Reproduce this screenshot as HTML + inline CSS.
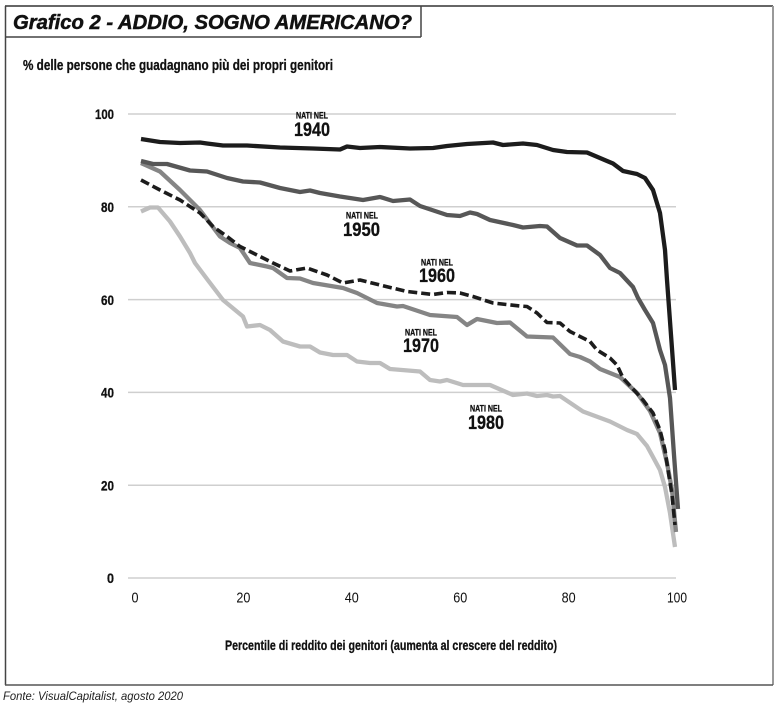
<!DOCTYPE html>
<html>
<head>
<meta charset="utf-8">
<style>
  html,body{margin:0;padding:0;background:#fff;}
  svg{display:block;}
  .nar{font-family:"Liberation Sans Narrow","Liberation Sans",sans-serif;}
</style>
</head>
<body>
<svg width="779" height="712" viewBox="0 0 779 712" xmlns="http://www.w3.org/2000/svg">
  <rect x="0" y="0" width="779" height="712" fill="#fff"/>
  <!-- outer frame -->
  <line x1="5" y1="6" x2="773" y2="6" stroke="#333" stroke-width="1.5"/>
  <line x1="5.5" y1="6" x2="5.5" y2="685" stroke="#444" stroke-width="1.5"/>
  <line x1="773" y1="6" x2="773" y2="685" stroke="#999" stroke-width="2"/>
  <line x1="5" y1="685" x2="773" y2="685" stroke="#555" stroke-width="1.5"/>
  <!-- title box -->
  <line x1="421" y1="6" x2="421" y2="37" stroke="#444" stroke-width="1.5"/>
  <line x1="5" y1="37" x2="421" y2="37" stroke="#444" stroke-width="1.5"/>
  <text x="13" y="29" font-family="Liberation Sans, sans-serif" font-weight="bold" font-style="italic" font-size="20" fill="#111" stroke="#111" stroke-width="0.5" textLength="399" lengthAdjust="spacingAndGlyphs">Grafico 2 - ADDIO, SOGNO AMERICANO?</text>

  <text class="nar" x="23" y="70" font-weight="bold" font-size="14.5" fill="#111" stroke="#111" stroke-width="0.3" textLength="310" lengthAdjust="spacingAndGlyphs">% delle persone che guadagnano più dei propri genitori</text>

  <!-- gridlines -->
  <g stroke="#cfcfcf" stroke-width="1.5">
    <line x1="128" y1="114" x2="676" y2="114"/>
    <line x1="128" y1="206.8" x2="676" y2="206.8"/>
    <line x1="128" y1="299.6" x2="676" y2="299.6"/>
    <line x1="128" y1="392.4" x2="676" y2="392.4"/>
    <line x1="128" y1="485.2" x2="676" y2="485.2"/>
    <line x1="128" y1="578" x2="676" y2="578"/>
  </g>

  <!-- y labels -->
  <g class="nar" font-weight="bold" font-size="14" fill="#111" stroke="#111" stroke-width="0.3" text-anchor="end">
    <text x="114" y="119" textLength="19" lengthAdjust="spacingAndGlyphs">100</text>
    <text x="114" y="212" textLength="13" lengthAdjust="spacingAndGlyphs">80</text>
    <text x="114" y="305" textLength="13" lengthAdjust="spacingAndGlyphs">60</text>
    <text x="114" y="397.5" textLength="13" lengthAdjust="spacingAndGlyphs">40</text>
    <text x="114" y="490.5" textLength="13" lengthAdjust="spacingAndGlyphs">20</text>
    <text x="114" y="583" textLength="7" lengthAdjust="spacingAndGlyphs">0</text>
  </g>
  <!-- x labels -->
  <g class="nar" font-size="15" fill="#111" text-anchor="middle">
    <text x="135" y="602.5" textLength="7" lengthAdjust="spacingAndGlyphs">0</text>
    <text x="243.4" y="602.5" textLength="14" lengthAdjust="spacingAndGlyphs">20</text>
    <text x="351.8" y="602.5" textLength="14" lengthAdjust="spacingAndGlyphs">40</text>
    <text x="460.2" y="602.5" textLength="14" lengthAdjust="spacingAndGlyphs">60</text>
    <text x="568.6" y="602.5" textLength="14" lengthAdjust="spacingAndGlyphs">80</text>
    <text x="677" y="602.5" textLength="20" lengthAdjust="spacingAndGlyphs">100</text>
  </g>
  <text class="nar" x="225" y="650" font-weight="bold" font-size="14" fill="#111" stroke="#111" stroke-width="0.3" textLength="332" lengthAdjust="spacingAndGlyphs">Percentile di reddito dei genitori (aumenta al crescere del reddito)</text>

  <!-- series -->
  <g fill="none" stroke-linejoin="round" stroke-linecap="butt">
    <polyline stroke="#bdbdbd" stroke-width="4.3" points="141,211.5 150,207.5 158,207.5 170,221.5 180,236.5 190,253 195,263 207,279 223,300 243,316.5 247,326.5 260,325 270,330 283,341.5 300,346.5 310,346.5 320,352.5 333,355 347,355 357,361.5 370,363 380,363 390,369 420,371.5 430,380 440,381.5 447,380 463,385 490,385 513,395 527,393.5 537,396 547,395 553,396.5 560,396 583,411.5 610,421.5 627,430 637,434 647,446 653,457 660,470 665,487 670,513 675,547"/>
    <polyline stroke="#858585" stroke-width="4.3" points="141,163 160,171.5 180,190 200,210 220,236.5 230,243 240,248 250,263 267,266.5 273,268 287,278 300,278.5 313,283 343,288 357,293 377,303 397,306.5 403,306 430,315 457,317 467,325 477,319 497,323 510,322.5 527,336.5 553,337.5 570,354 580,357 590,361.5 600,369 620,377 637,393 650,411 660,433 667,463 672,490 676,532"/>
    <polyline stroke="#575757" stroke-width="4.3" points="141,161 153,164 167,164 190,170.5 207,171.5 227,178 243,181.5 260,182.5 280,188 300,192 310,190.5 320,193 340,196.5 363,200 380,197 393,201 410,199.5 420,206 447,215 460,216 470,212.5 477,214 490,220 513,225 523,227.5 540,226 547,226.5 560,238 577,245.5 587,245.5 600,255 610,268 620,273 633,287 638,298 645,310 653,323 660,350 665,365 670,398 674,455 678,509"/>
    <polyline stroke="#1c1c1c" stroke-width="3.6" stroke-dasharray="9 4" points="141,180 160,190 180,200 200,213 213,226.5 227,236.5 240,246.5 250,251.5 260,256.5 273,263 290,271 307,268 327,275 343,283 360,280 380,285 407,291.5 433,294.5 447,292.5 460,293 473,296.5 493,303 520,306 527,306.5 537,313 547,322.5 560,323 570,331.5 590,341.5 597,350 610,358 617,365 623,378 643,400 653,413 660,430 665,450 668,470 672,495 675,525"/>
    <polyline stroke="#1c1c1c" stroke-width="4.3" points="141,139 160,142 180,143 200,142.5 207,143.5 223,145.5 247,145.5 280,147.5 313,148.5 340,149.5 347,146.5 360,148 380,147 410,148.5 433,148 447,146 467,144 493,142.5 503,145 523,143.5 537,145 553,150 567,152 587,152.5 607,161 613,163.5 623,171 637,174 645,178 653,190 660,213 665,250 667,280 671,335 675,390"/>
  </g>

  <!-- series labels -->
  <g class="nar" font-weight="bold" fill="#111" stroke="#111" stroke-width="0.3" text-anchor="middle">
    <text x="312" y="118.5" font-size="9" textLength="32" lengthAdjust="spacingAndGlyphs">NATI NEL</text>
    <text x="312" y="136" font-size="19" textLength="36" lengthAdjust="spacingAndGlyphs">1940</text>
    <text x="362" y="218.5" font-size="9" textLength="32" lengthAdjust="spacingAndGlyphs">NATI NEL</text>
    <text x="361.5" y="236" font-size="19" textLength="37" lengthAdjust="spacingAndGlyphs">1950</text>
    <text x="437" y="265.5" font-size="9" textLength="32" lengthAdjust="spacingAndGlyphs">NATI NEL</text>
    <text x="437" y="282" font-size="19" textLength="36" lengthAdjust="spacingAndGlyphs">1960</text>
    <text x="421" y="335.5" font-size="9" textLength="32" lengthAdjust="spacingAndGlyphs">NATI NEL</text>
    <text x="421" y="352" font-size="19" textLength="36" lengthAdjust="spacingAndGlyphs">1970</text>
    <text x="486" y="411.5" font-size="9" textLength="32" lengthAdjust="spacingAndGlyphs">NATI NEL</text>
    <text x="486" y="429" font-size="19" textLength="36" lengthAdjust="spacingAndGlyphs">1980</text>
  </g>

  <text x="3" y="700" font-family="Liberation Sans, sans-serif" font-style="italic" font-size="12" fill="#222" textLength="180" lengthAdjust="spacingAndGlyphs">Fonte: VisualCapitalist, agosto 2020</text>
</svg>
</body>
</html>
